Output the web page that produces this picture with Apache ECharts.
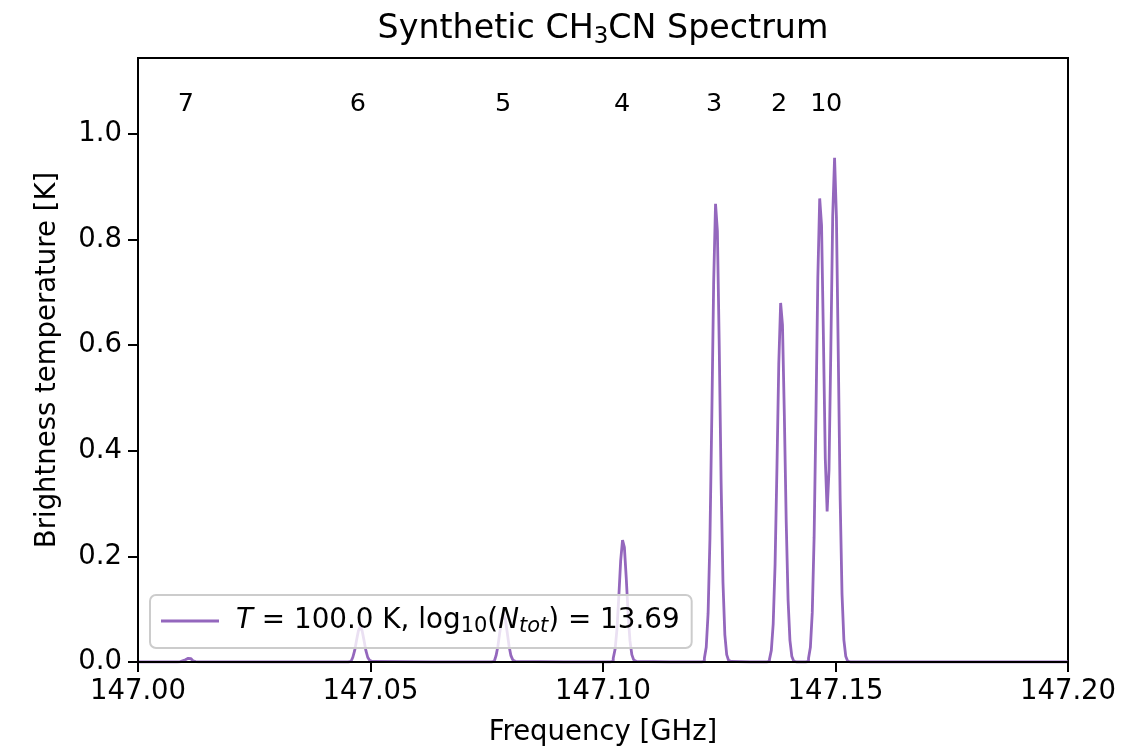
<!DOCTYPE html>
<html>
<head>
<meta charset="utf-8">
<script src="https://cdn.jsdelivr.net/npm/echarts@6/dist/echarts.min.js"></script>
<style>
html,body{margin:0;padding:0;background:#fff;}
#chart{width:1146px;height:747px;}
</style>
</head>
<body>
<div id="chart"></div>
<script>
// ---- data ----
const freqGHz = [
  147.0000,
  147.0084, 147.0088, 147.0092, 147.0096, 147.0100, 147.0104, 147.0108, 147.0112, 147.0116, 147.0120, 147.0124, 147.0128, 147.0132,
  147.0452, 147.0456, 147.0460, 147.0464, 147.0468, 147.0472, 147.0476, 147.0480, 147.0484, 147.0488, 147.0492, 147.0496, 147.0500, 147.0504, 147.0508,
  147.0760, 147.0764, 147.0768, 147.0772, 147.0776, 147.0780, 147.0784, 147.0788, 147.0792, 147.0796, 147.0800, 147.0804, 147.0808, 147.0812, 147.0816,
  147.1016, 147.1020, 147.1024, 147.1028, 147.1032, 147.1036, 147.1040, 147.1044, 147.1048, 147.1052, 147.1056, 147.1060, 147.1064, 147.1068, 147.1072, 147.1076,
  147.1212, 147.1216, 147.1220, 147.1224, 147.1228, 147.1232, 147.1236, 147.1240, 147.1244, 147.1248, 147.1252, 147.1256, 147.1260, 147.1264, 147.1268, 147.1272, 147.1276, 147.1280,
  147.1352, 147.1356, 147.1360, 147.1364, 147.1368, 147.1372, 147.1376, 147.1380, 147.1384, 147.1388, 147.1392, 147.1396, 147.1400, 147.1404, 147.1408, 147.1412, 147.1416,
  147.1436, 147.1440, 147.1444, 147.1448, 147.1452, 147.1456, 147.1460, 147.1464, 147.1468, 147.1472, 147.1476, 147.1480, 147.1484, 147.1488, 147.1492, 147.1496, 147.1500, 147.1504, 147.1508, 147.1512, 147.1516, 147.1520, 147.1524, 147.1528, 147.1532,
  147.2000
];
const brightnessK = [
  0,
  0, 0.0003, 0.0009, 0.0023, 0.0042, 0.0062, 0.0070, 0.0062, 0.0042, 0.0023, 0.0009, 0.0003, 0,
  0, 0.001, 0.003, 0.009, 0.022, 0.041, 0.059, 0.067, 0.059, 0.041, 0.022, 0.009, 0.003, 0.001, 0,
  0, 0.001, 0.004, 0.012, 0.030, 0.056, 0.081, 0.092, 0.081, 0.056, 0.030, 0.012, 0.004, 0.001, 0,
  0, 0.002, 0.007, 0.024, 0.062, 0.124, 0.192, 0.231, 0.217, 0.159, 0.091, 0.040, 0.014, 0.004, 0.001, 0,
  0, 0.001, 0.007, 0.028, 0.092, 0.234, 0.465, 0.720, 0.868, 0.816, 0.597, 0.340, 0.151, 0.052, 0.014, 0.003, 0.001, 0,
  0, 0.001, 0.005, 0.022, 0.072, 0.183, 0.364, 0.564, 0.680, 0.638, 0.467, 0.266, 0.118, 0.041, 0.011, 0.002, 0,
  0, 0.001, 0.007, 0.028, 0.093, 0.236, 0.470, 0.728, 0.878, 0.827, 0.615, 0.386, 0.285, 0.363, 0.594, 0.845, 0.955, 0.842, 0.580, 0.310, 0.129, 0.042, 0.011, 0.002, 0,
  0
];
const kLabels = ['7', '6', '5', '4', '3', '2', '1', '0'];
const kLabelFreqs = [147.0103, 147.0473, 147.0785, 147.1041, 147.1239, 147.1379, 147.1463, 147.1497];
const kLabelHeight = 1.056;
const xTicks = [147.00, 147.05, 147.10, 147.15, 147.20];
const yTicks = [0.0, 0.2, 0.4, 0.6, 0.8, 1.0];
const seriesName = 'T = 100.0 K, log10(Ntot) = 13.69';

// ---- chart ----
const FONT = 'DejaVu Sans';
const chart = echarts.init(document.getElementById('chart'), null, {renderer: 'canvas'});
const spectrum = freqGHz.map((f, i) => [f, brightnessK[i]]);
const kData = kLabelFreqs.map((f, i) => ({value: [f, kLabelHeight], name: kLabels[i]}));

chart.setOption({
  animation: false,
  backgroundColor: '#ffffff',
  title: {
    text: '{t|Synthetic CH}{s|3}{t|CN Spectrum}',
    left: 603,
    textAlign: 'center',
    top: 9,
    padding: 0,
    textStyle: {
      fontWeight: 'normal',
      rich: {
        t: {fontFamily: FONT, fontSize: 33.3, lineHeight: 40, fontWeight: 'normal', color: '#000'},
        s: {fontFamily: FONT, fontSize: 23, lineHeight: 21, fontWeight: 'normal', verticalAlign: 'bottom', color: '#000'}
      }
    }
  },
  grid: {
    left: 138, right: 78, top: 58, bottom: 85,
    outerBoundsMode: 'none',
    containLabel: false,
    show: true, borderColor: '#000', borderWidth: 2, backgroundColor: 'transparent'
  },
  legend: {
    data: [seriesName],
    left: 150,
    top: 595,
    orient: 'horizontal',
    icon: 'rect',
    itemWidth: 58,
    itemHeight: 3,
    selectedMode: false,
    padding: [12, 12, 11, 11],
    backgroundColor: 'rgba(255,255,255,0.8)',
    borderColor: '#cccccc',
    borderWidth: 2,
    borderRadius: 6,
    formatter: function () {
      return '{sp| }{i|T}{n| = 100.0 K, log}{s|10}{n|(}{i|N}{si|tot}{n|) = 13.69}';
    },
    textStyle: {
      fontFamily: FONT, fontSize: 27.5, color: '#000',
      rich: {
        sp: {fontFamily: FONT, fontSize: 27.5, lineHeight: 32, width: 12},
        n: {fontFamily: FONT, fontSize: 27.8, lineHeight: 32, color: '#000'},
        i: {fontFamily: FONT, fontSize: 27.8, lineHeight: 32, fontStyle: 'italic', color: '#000'},
        s: {fontFamily: FONT, fontSize: 21, lineHeight: 16, verticalAlign: 'bottom', color: '#000'},
        si: {fontFamily: FONT, fontSize: 21, lineHeight: 16, verticalAlign: 'bottom', fontStyle: 'italic', color: '#000'}
      }
    }
  },
  xAxis: {
    type: 'value',
    min: 147.0,
    max: 147.2,
    interval: 0.05,
    z: 3,
    name: 'Frequency [GHz]',
    nameLocation: 'middle',
    nameGap: 57,
    nameTextStyle: {fontFamily: FONT, fontSize: 27.5, color: '#000'},
    axisLine: {show: true, onZero: false, lineStyle: {color: '#000', width: 2.2}},
    axisTick: {show: true, length: 10, customValues: xTicks, lineStyle: {color: '#000', width: 2}},
    splitLine: {show: false},
    axisLabel: {
      customValues: xTicks,
      fontFamily: FONT, fontSize: 27.5, color: '#000', margin: 16,
      formatter: v => Number(v).toFixed(2)
    }
  },
  yAxis: {
    type: 'value',
    min: 0,
    max: 1.144,
    interval: 0.2,
    z: 3,
    name: 'Brightness temperature [K]',
    nameLocation: 'middle',
    nameGap: 76,
    nameRotate: 90,
    nameTextStyle: {fontFamily: FONT, fontSize: 27.5, color: '#000'},
    axisLine: {show: true, lineStyle: {color: '#000', width: 2}},
    axisTick: {show: true, length: 10, customValues: yTicks, lineStyle: {color: '#000', width: 2}},
    splitLine: {show: false},
    axisLabel: {
      customValues: yTicks,
      fontFamily: FONT, fontSize: 27.5, color: '#000', margin: 16,
      formatter: v => Number(v).toFixed(1)
    }
  },
  series: [
    {
      name: seriesName,
      type: 'line',
      step: 'middle',
      data: spectrum,
      showSymbol: false,
      symbol: 'none',
      color: '#9467bd',
      itemStyle: {color: '#9467bd'},
      lineStyle: {color: '#9467bd', width: 2.8},
      z: 2
    },
    {
      name: 'K labels',
      type: 'scatter',
      data: kData,
      symbol: 'circle',
      symbolSize: 1,
      silent: true,
      itemStyle: {color: 'rgba(0,0,0,0)', opacity: 1},
      label: {
        show: true,
        position: 'inside',
        formatter: p => p.name,
        fontFamily: FONT,
        fontSize: 25.5,
        color: '#000000',
        opacity: 1
      },
      labelLayout: {hideOverlap: false},
      z: 5
    }
  ]
});
</script>
</body>
</html>
